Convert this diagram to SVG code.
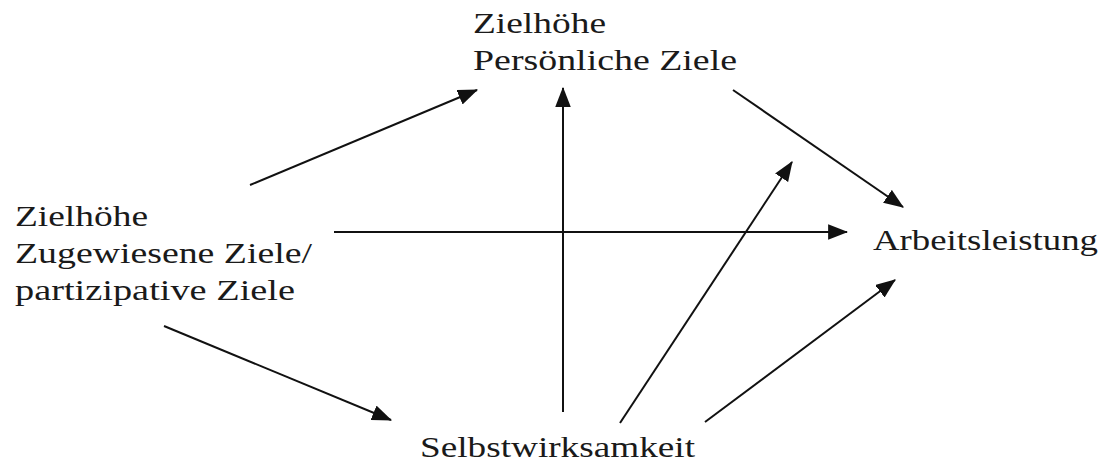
<svg xmlns="http://www.w3.org/2000/svg" width="1107" height="467" viewBox="0 0 1107 467">
<style>
  text { font-family: "Liberation Serif", "Times New Roman", serif; font-size: 29px; fill: #1a1a1a; }
  .c line { stroke: #111; stroke-width: 2; marker-end: url(#ah); }
</style>
<defs>
  <marker id="ah" markerUnits="userSpaceOnUse" markerWidth="20" markerHeight="16" refX="17" refY="7" orient="auto" viewBox="0 0 18 14">
    <path d="M0,0 L18,7 L0,14 z" fill="#111"/>
  </marker>
</defs>
<rect width="1107" height="467" fill="#fff"/>
<g id="node-persoenliche">
  <text x="473" y="33" textLength="133" lengthAdjust="spacingAndGlyphs">Zielhöhe</text>
  <text x="473" y="70" textLength="264" lengthAdjust="spacingAndGlyphs">Persönliche Ziele</text>
</g>
<g id="node-zugewiesene">
  <text x="15" y="226" textLength="133" lengthAdjust="spacingAndGlyphs">Zielhöhe</text>
  <text x="15" y="263" textLength="297" lengthAdjust="spacingAndGlyphs">Zugewiesene Ziele/</text>
  <text x="15" y="300" textLength="280" lengthAdjust="spacingAndGlyphs">partizipative Ziele</text>
</g>
<g id="node-arbeitsleistung">
  <text x="873" y="250" textLength="225" lengthAdjust="spacingAndGlyphs">Arbeitsleistung</text>
</g>
<g id="node-selbstwirksamkeit">
  <text x="420" y="457" textLength="275" lengthAdjust="spacingAndGlyphs">Selbstwirksamkeit</text>
</g>
<g id="connectors" class="c">
  <line x1="250" y1="185" x2="477" y2="90"/>
  <line x1="563" y1="412" x2="563" y2="88"/>
  <line x1="334" y1="232" x2="847" y2="232"/>
  <line x1="733" y1="90" x2="903" y2="207"/>
  <line x1="620" y1="423" x2="792" y2="162"/>
  <line x1="705" y1="422" x2="895" y2="280"/>
  <line x1="164" y1="326" x2="391" y2="420"/>
</g>
</svg>
